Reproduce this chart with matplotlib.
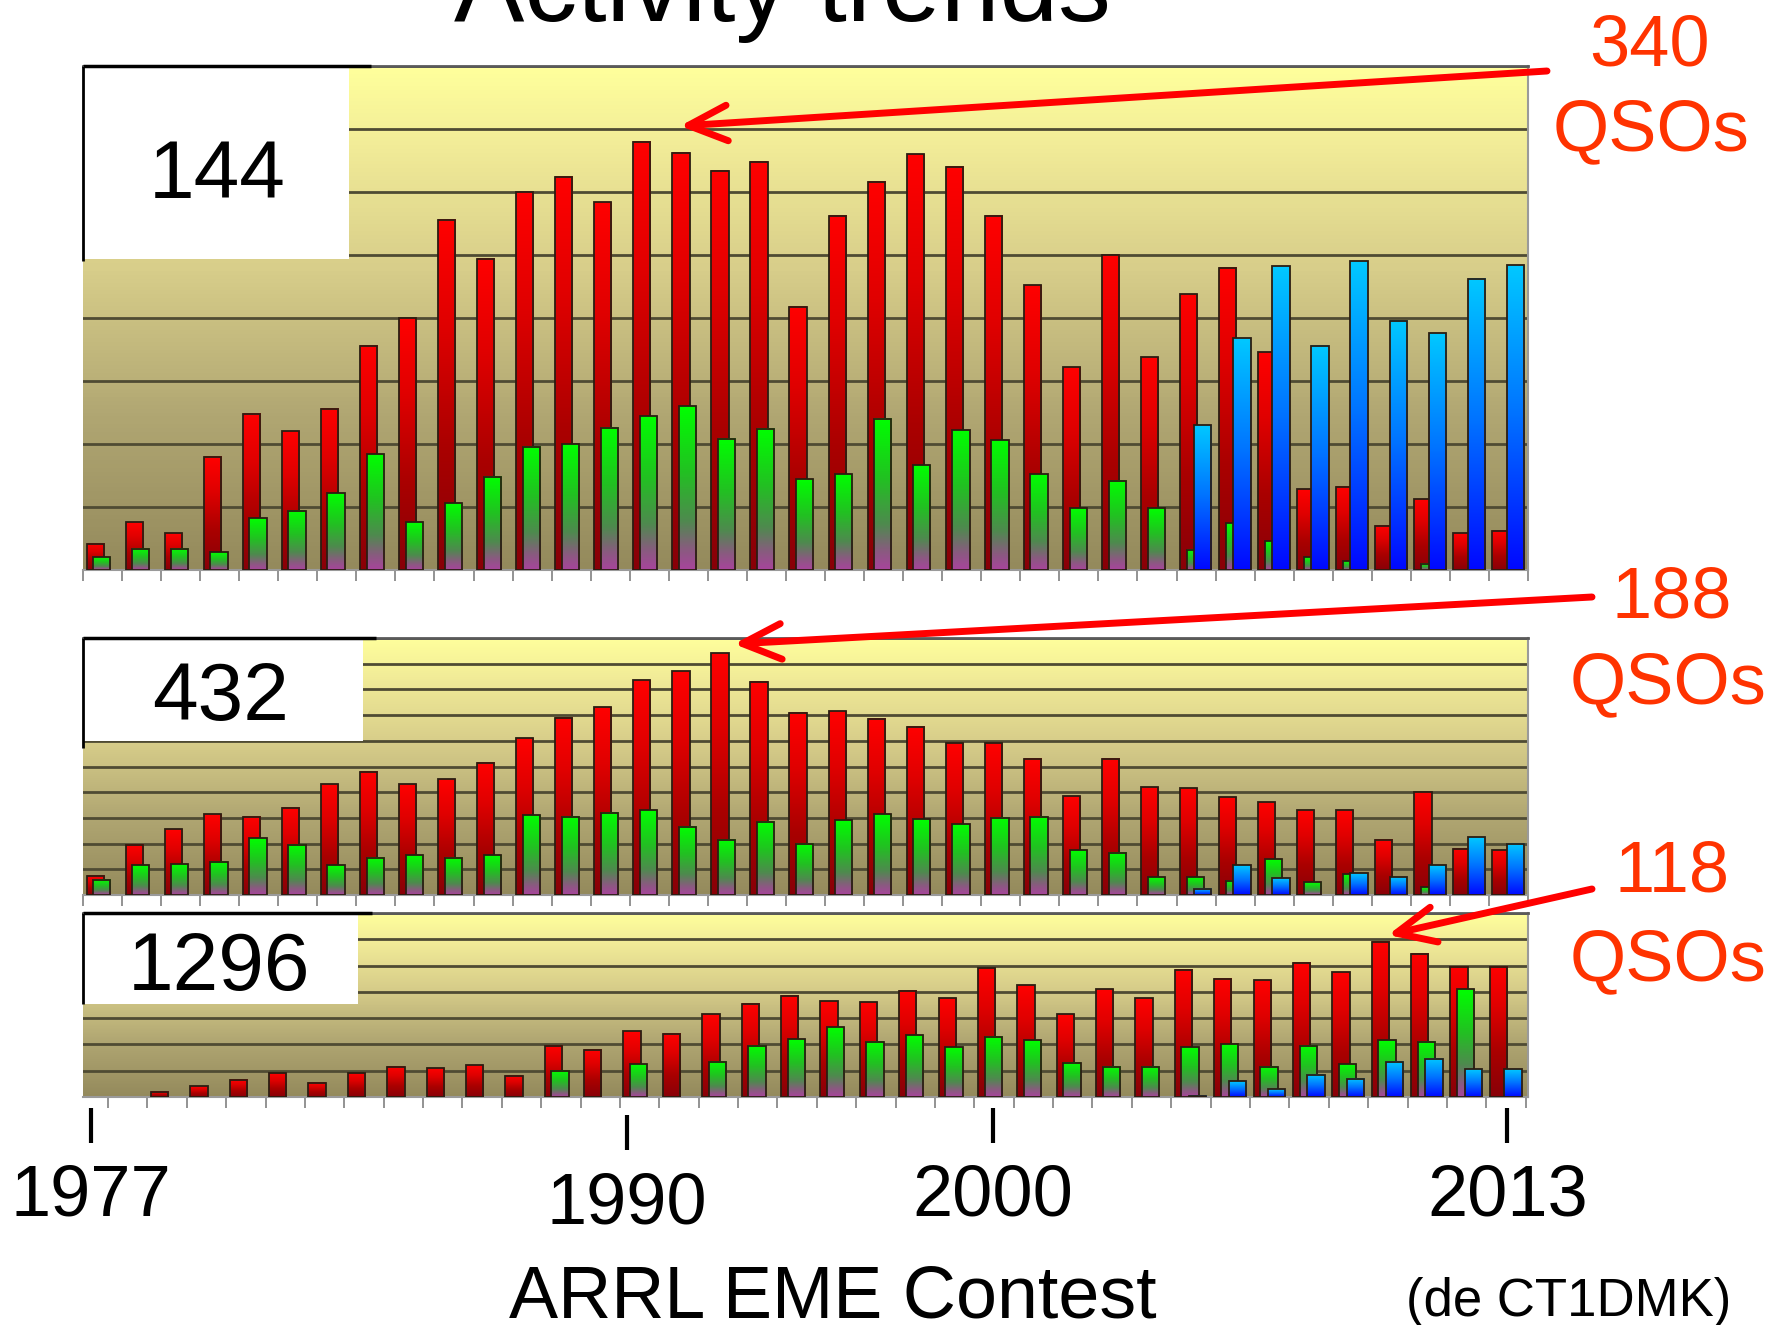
import numpy as np
import matplotlib
matplotlib.use('Agg')
import matplotlib.pyplot as plt
from matplotlib.colors import LinearSegmentedColormap
from matplotlib.patches import Rectangle, FancyArrowPatch
from matplotlib.transforms import blended_transform_factory

plt.rcParams['font.family'] = ['Liberation Sans', 'DejaVu Sans']

W, H = 1777, 1325

years = list(range(1977, 2014))
year_labels = [1977, 1990, 2000, 2013]

# 144 MHz: QSO counts per contest year
qso_144_red = [21, 38, 29, 90, 124, 110, 128, 178, 200, 278, 247, 300, 312, 292, 340, 331, 317,
               324, 209, 281, 308, 330, 320, 281, 226, 161, 250, 169, 219, 240, 173, 64, 66, 35,
               56, 29, 31]
qso_144_green = [10, 17, 17, 14, 41, 47, 61, 92, 38, 53, 74, 98, 100, 113, 122, 130, 104, 112, 72,
                 76, 120, 83, 111, 103, 76, 49, 71, 49, 16, 37, 23, 10, 7, 0, 5, 0, 0]
qso_144_blue = [0] * 28 + [115, 184, 241, 178, 245, 198, 188, 231, 242]

# 432 MHz
qso_432_red = [15, 39, 51, 63, 61, 68, 86, 96, 86, 90, 103, 122, 138, 146, 167, 174, 188, 166, 142,
               143, 137, 131, 118, 118, 106, 77, 106, 84, 83, 76, 72, 66, 66, 43, 80, 36, 35]
qso_432_green = [12, 23, 24, 26, 44, 39, 23, 29, 31, 29, 31, 62, 61, 64, 66, 53, 43, 57, 40, 58, 63,
                 59, 55, 60, 61, 35, 33, 14, 14, 11, 28, 10, 16, 0, 6, 0, 0]
qso_432_blue = [0] * 28 + [5, 23, 13, 0, 17, 14, 23, 45, 40]

# 1296 MHz
qso_1296_red = [0, 0, 4, 8, 13, 18, 11, 18, 23, 22, 24, 16, 39, 36, 50, 48, 63, 71, 77, 73, 72, 81,
                75, 98, 85, 63, 82, 75, 97, 90, 89, 102, 95, 118, 109, 99, 99]
qso_1296_green = [0] * 12 + [20, 0, 25, 0, 27, 39, 44, 53, 42, 47, 38, 46, 43, 26, 23, 23, 38, 40,
                             23, 39, 25, 43, 42, 82, 0]
qso_1296_blue = [0] * 28 + [1, 12, 6, 17, 14, 27, 29, 21, 21]

bands = ['144', '432', '1296']
peaks = [340, 188, 118]

red_cmap = LinearSegmentedColormap.from_list(
    'red', [(0, '#880008'), (0.35, '#aa0000'), (0.7, '#e00000'), (1, '#ff0000')])
green_cmap = LinearSegmentedColormap.from_list(
    'green', [(0, '#a8449c'), (0.12, '#8a5a80'), (0.3, '#4e8a4e'), (0.6, '#22c022'), (1, '#00ff00')])
blue_cmap = LinearSegmentedColormap.from_list(
    'blue', [(0, '#0008ff'), (0.5, '#0070ff'), (1, '#00c8ff')])
back_cmap = LinearSegmentedColormap.from_list(
    'back', [(0, '#948a5c'), (0.3, '#b0a672'), (0.6, '#d8ce8a'), (0.85, '#f2ec98'), (1, '#ffff9c')])

grad = np.linspace(0, 1, 128).reshape(-1, 1)


def fx(px):
    return px / W


def fy(py):
    return 1 - py / H


def draw_bars(ax, values, offset, cmap, z, width=0.44):
    for i, v in enumerate(values):
        if v <= 0:
            continue
        x0 = i + offset
        ax.imshow(grad, cmap=cmap, origin='lower', aspect='auto', interpolation='bilinear',
                  extent=(x0, x0 + width, 0, v), zorder=z)
        ax.add_patch(Rectangle((x0, 0), width, v, fill=False, edgecolor='#2b1d12',
                               lw=1.3, zorder=z + 0.05))


def setup_panel(ax, ymax, step, xlim, xticks, box_w, box_h, line_w, line_h):
    ax.imshow(grad, cmap=back_cmap, origin='lower', aspect='auto', extent=(0, 1, 0, 1),
              transform=ax.transAxes, zorder=0)
    ax.set_yticks(np.arange(0, ymax + 1, step))
    ax.set_axisbelow(True)
    ax.grid(axis='y', color='#4f4b33', lw=2.0)
    ax.set_xticks(xticks)
    ax.tick_params(axis='y', length=0, labelleft=False)
    ax.tick_params(axis='x', length=8, width=1.3, color='#8a8a8a', labelbottom=False)
    ax.spines['left'].set_visible(False)
    ax.spines['top'].set_color('#5a5a5a')
    ax.spines['top'].set_linewidth(2)
    for s in ('right', 'bottom'):
        ax.spines[s].set_color('#9a9a9a')
        ax.spines[s].set_linewidth(1.5)
    # white label box in the top-left corner
    ax.add_patch(Rectangle((0, 1 - box_h), box_w, box_h, transform=ax.transAxes,
                           fc='white', ec='none', zorder=5, clip_on=False))
    ax.plot([0, line_w], [1, 1], transform=ax.transAxes, color='black', lw=2.5,
            clip_on=False, zorder=6, solid_capstyle='butt')
    ax.plot([0, 0], [1, 1 - line_h], transform=ax.transAxes, color='black', lw=2.0,
            clip_on=False, zorder=6, solid_capstyle='butt')
    ax.set_xlim(*xlim)
    ax.set_ylim(0, ymax)


fig = plt.figure(figsize=(W / 100, H / 100), dpi=100)

panel_rects = [(83, 66, 1528, 570), (83, 638, 1528, 895), (83, 913, 1528, 1097)]
series = [
    (qso_144_red, qso_144_green, qso_144_blue, 400, 50, (0, 37), np.arange(0, 38),
     0.184, 0.382, 0.199, 0.387),
    (qso_432_red, qso_432_green, qso_432_blue, 200, 20, (0, 37), np.arange(0, 38),
     0.194, 0.40, 0.203, 0.427),
    (qso_1296_red, qso_1296_green, qso_1296_blue, 140, 20, (0.365, 37.06), np.arange(1, 38),
     0.19, 0.494, 0.20, 0.494),
]
label_pos = [(217, 198), (221, 720), (219, 990)]

axes = []
for (l, t, r, b), spec, band, (lx, ly) in zip(panel_rects, series, bands, label_pos):
    red, green, blue, ymax, step, xlim, xticks, bw, bh, lw_, lh = spec
    ax = fig.add_axes([fx(l), fy(b), (r - l) / W, (b - t) / H])
    draw_bars(ax, red, 0.09, red_cmap, 3.0)
    draw_bars(ax, green, 0.26, green_cmap, 3.2)
    draw_bars(ax, blue, 0.455, blue_cmap, 3.4)
    setup_panel(ax, ymax, step, xlim, xticks, bw, bh, lw_, lh)
    fig.text(fx(lx), fy(ly), band, fontsize=59, ha='center', va='baseline', zorder=7)
    axes.append(ax)

# title (runs off the top edge)
fig.text(fx(782), fy(21), 'Activity trends', fontsize=76, ha='center', va='baseline')

# peak callouts
callouts = [
    ((1650, 65), (1651, 150), (1547, 71), (680, 126)),
    ((1672, 618), (1668, 703), (1592, 597), (734, 644)),
    ((1672, 892), (1668, 980), (1592, 889), (1388, 935)),
]
for peak, (num_xy, qso_xy, tail, tip) in zip(peaks, callouts):
    fig.text(fx(num_xy[0]), fy(num_xy[1]), str(peak), fontsize=52, color='#ff3300',
             ha='center', va='baseline')
    fig.text(fx(qso_xy[0]), fy(qso_xy[1]), 'QSOs', fontsize=52, color='#ff3300',
             ha='center', va='baseline')
    arrow = FancyArrowPatch((fx(tail[0]), fy(tail[1])), (fx(tip[0]), fy(tip[1])),
                            transform=fig.transFigure,
                            arrowstyle='->,head_length=0.7,head_width=0.32',
                            mutation_scale=40, lw=5, color='#ff0000',
                            shrinkA=0, shrinkB=0, capstyle='round', joinstyle='round',
                            zorder=10)
    fig.add_artist(arrow)

# year markers under the bottom panel
ax_top = axes[0]
trans = blended_transform_factory(ax_top.transData, fig.transFigure)
year_nudge = [-0.3, 0.43, -0.2, -0.03]
year_drop = [0, 7, 0, 0]
for yr, dx, dy in zip(year_labels, year_nudge, year_drop):
    xpos = years.index(yr) + 0.5 + dx
    ax_top.plot([xpos, xpos], [fy(1108 + dy), fy(1143 + dy)], transform=trans,
                color='black', lw=3, clip_on=False, solid_capstyle='butt')
    ax_top.text(xpos, fy(1216 + dy), str(yr), transform=trans, fontsize=52,
                ha='center', va='baseline', clip_on=False)

fig.text(fx(833), fy(1318), 'ARRL EME Contest', fontsize=53, ha='center', va='baseline')
fig.text(fx(1569), fy(1316), '(de CT1DMK)', fontsize=38, ha='center', va='baseline')

fig.savefig('out.png', dpi=100)
